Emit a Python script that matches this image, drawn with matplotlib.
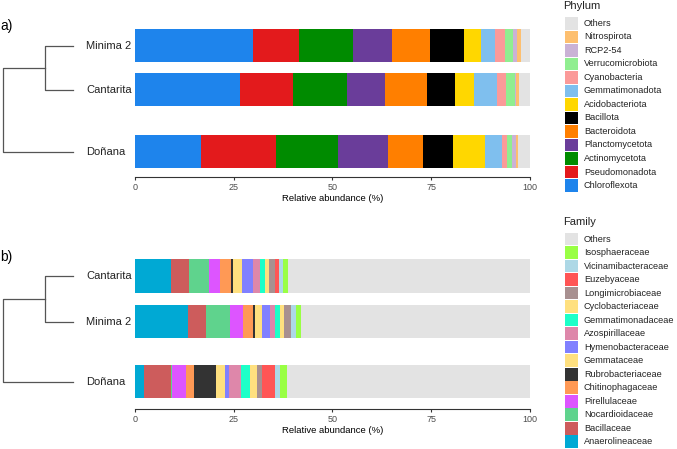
import numpy as np
import matplotlib.pyplot as plt
from matplotlib.patches import Rectangle

plt.rcParams['font.family'] = ['Liberation Sans', 'DejaVu Sans']

W, H = 677, 449

# a) phylum level, left-to-right order in the bars
phyla = ['Chloroflexota', 'Pseudomonadota', 'Actinomycetota', 'Planctomycetota',
         'Bacteroidota', 'Bacillota', 'Acidobacteriota', 'Gemmatimonadota',
         'Cyanobacteria', 'Verrucomicrobiota', 'RCP2-54', 'Nitrospirota', 'Others']
phylum_colors = ['#1E84EC', '#E31A1C', '#008B00', '#6A3D9A', '#FF7F00', '#000000',
                 '#FFD700', '#7FBFEE', '#FB9A99', '#90EE90', '#CAB2D6', '#FDBF6F',
                 '#E3E3E3']
phylum_minima2 = [30.0, 11.6, 13.7, 9.8, 9.7, 8.5, 4.4, 3.5, 2.5, 2.1, 0.8, 1.0, 2.4]
phylum_cantarita = [26.6, 13.5, 13.5, 9.8, 10.6, 7.0, 4.9, 5.7, 2.2, 2.5, 0.2, 0.8, 2.7]
phylum_donana = [16.7, 19.0, 15.6, 12.7, 8.8, 7.6, 8.1, 4.3, 1.4, 1.3, 1.0, 0.5, 3.0]

# b) family level
families = ['Anaerolineaceae', 'Bacillaceae', 'Nocardioidaceae', 'Pirellulaceae',
            'Chitinophagaceae', 'Rubrobacteriaceae', 'Gemmataceae', 'Hymenobacteraceae',
            'Azospirillaceae', 'Gemmatimonadaceae', 'Cyclobacteriaceae',
            'Longimicrobiaceae', 'Euzebyaceae', 'Vicinamibacteraceae', 'Isosphaeraceae',
            'Others']
family_colors = ['#00A9D4', '#CD5C5C', '#5FD38D', '#DD55FF', '#FF9955', '#333333',
                 '#FFE07F', '#8080FF', '#DE87AA', '#1DFFC8', '#FFE07F', '#A89090',
                 '#FF5555', '#ADD8E6', '#99FF44', '#E3E3E3']
family_cantarita = [9.1, 4.6, 5.0, 2.7, 2.8, 0.6, 2.3, 2.8, 1.7, 1.4, 0.8, 1.7, 0.9, 1.1, 1.2, 61.3]
family_minima2 = [13.5, 4.5, 6.0, 3.4, 2.5, 0.5, 1.8, 2.1, 1.1, 1.2, 1.2, 1.6, 0.2, 1.2, 1.1, 58.1]
family_donana = [2.3, 6.8, 0.3, 3.4, 2.2, 5.5, 2.4, 1.0, 2.9, 2.2, 1.9, 1.3, 3.3, 1.2, 1.7, 61.6]

ticks = [0, 25, 50, 75, 100]


def px_rect(x0, y0, x1, y1):
    return [x0 / W, 1 - y1 / H, (x1 - x0) / W, (y1 - y0) / H]


fig = plt.figure(figsize=(W / 100, H / 100), dpi=100)


def panel(top, bottom, names, rows, colors, ypos, ylim, bar_h):
    ax = fig.add_axes(px_rect(135, top, 530, bottom))
    for name, vals, y in zip(names, rows, ypos):
        left = np.concatenate([[0], np.cumsum(vals)[:-1]])
        ax.barh([y] * len(vals), vals, left=left, height=bar_h, color=colors, linewidth=0)
    ax.set_xlim(0, 100)
    ax.set_ylim(*ylim)
    for s in ['top', 'right', 'left']:
        ax.spines[s].set_visible(False)
    ax.spines['bottom'].set_color('#333333')
    ax.spines['bottom'].set_linewidth(0.8)
    ax.set_yticks([])
    ax.set_xticks(ticks)
    ax.set_xticklabels([str(t) for t in ticks])
    ax.tick_params(axis='x', length=2.5, width=0.8, color='#333333', labelsize=6.5,
                   labelcolor='#4D4D4D', pad=1.5)
    ax.set_xlabel('Relative abundance (%)', fontsize=6.8, labelpad=2)

    # dendrogram: first two rows joined, then the third
    dax = fig.add_axes(px_rect(0, top, 135, bottom), sharey=ax)
    dax.set_xlim(0, 135)
    dax.axis('off')
    lc = '#555555'
    y1, y2, y3 = ypos
    dax.plot([73, 45, 45, 73], [y1, y1, y2, y2], color=lc, lw=0.9)
    ym = (y1 + y2) / 2
    dax.plot([45, 3, 3, 73], [ym, ym, y3, y3], color=lc, lw=0.9)
    for name, y in zip(names, ypos):
        dax.text(86, y, name, fontsize=8, va='center', ha='left', color='#222222')
    return ax


# a) rows: Minima 2 (top), Cantarita, Doñana (bottom)
panel(20, 177, ['Minima 2', 'Cantarita', 'Doñana'],
      [phylum_minima2, phylum_cantarita, phylum_donana],
      phylum_colors, [2.4, 1.4, 0.0], (-0.574, 2.985), 0.75)

# b) rows: Cantarita (top), Minima 2, Doñana (bottom)
panel(250, 409, ['Cantarita', 'Minima 2', 'Doñana'],
      [family_cantarita, family_minima2, family_donana],
      family_colors, [2.31, 1.31, 0.0], (-0.597, 2.878), 0.73)

# overlay for panel letters and legends, in pixel coordinates
ov = fig.add_axes([0, 0, 1, 1])
ov.set_xlim(0, W)
ov.set_ylim(H, 0)
ov.axis('off')
ov.text(0, 26, 'a)', fontsize=10, va='center', ha='left')
ov.text(0, 257, 'b)', fontsize=10, va='center', ha='left')


def legend(title, title_y, first_y, labels, colors):
    ov.text(563, title_y, title, fontsize=8, va='center', ha='left', color='#222222')
    for i, (lab, col) in enumerate(zip(labels[::-1], colors[::-1])):
        y = first_y + i * 13.52
        ov.add_patch(Rectangle((565, y - 6.3), 13, 12.6, facecolor=col, edgecolor='none'))
        ov.text(584, y, lab, fontsize=6.6, va='center', ha='left', color='#222222')


legend('Phylum', 6, 23.3, phyla, phylum_colors)
legend('Family', 222, 239, families, family_colors)

fig.savefig('out.png', dpi=100)
